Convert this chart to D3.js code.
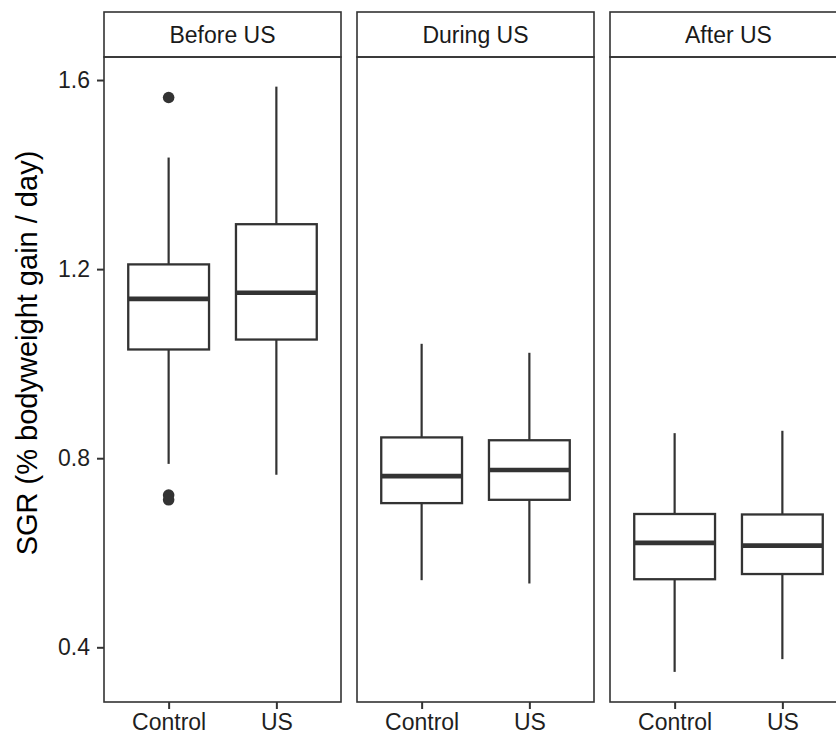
<!DOCTYPE html>
<html>
<head>
<meta charset="utf-8">
<script src="https://cdn.jsdelivr.net/npm/d3@7"></script>
<style>
  body { margin: 0; background: #fff; }
  text { font-family: "Liberation Sans", Arial, sans-serif; }
</style>
</head>
<body>
<svg></svg>
<script>
// -------------------------------------------------------------
const width  = 836;
const height = 735;

// data
const facets  = ["Before US", "During US", "After US"];
const groups  = ["Control", "US"];
const yTicks  = [0.4, 0.8, 1.2, 1.6];

// one entry per facet, [Control, US]
const whiskerLow  = [[0.788, 0.765], [0.542, 0.535], [0.348, 0.375]];
const q1          = [[1.030, 1.051], [0.705, 0.712], [0.544, 0.555]];
const median      = [[1.137, 1.150], [0.762, 0.775], [0.621, 0.615]];
const q3          = [[1.210, 1.295], [0.844, 0.838], [0.682, 0.681]];
const whiskerHigh = [[1.436, 1.586], [1.042, 1.023], [0.853, 0.858]];
const outliers    = [[[1.563, 0.722, 0.712], []], [[], []], [[], []]];

const panelTop    = 57;
const panelBottom = 702;
const stripTop    = 12;
const panelLeft   = [104, 357, 610];
const panelWidth  = 237;
const ink         = "#333333";
const smallFont   = "23px";

const svg = d3.select("svg").attr("width", width).attr("height", height);

const y = d3.scaleLinear()
  .domain([0.2843, 1.6487])
  .range([panelBottom, panelTop]);

// -------------------------------------------------------------
// y axis + title
const yAxis = svg.append("g")
  .attr("transform", `translate(${panelLeft[0]},0)`)
  .call(d3.axisLeft(y).tickValues(yTicks).tickFormat(d3.format(".1f")).tickSize(7).tickPadding(7));
yAxis.select(".domain").remove();
yAxis.selectAll(".tick line").attr("stroke", ink).attr("stroke-width", 2);
yAxis.selectAll(".tick text")
  .attr("fill", "#1f1f1f")
  .style("font-size", smallFont);

svg.append("text")
  .attr("transform", `translate(37,353) rotate(-90)`)
  .attr("text-anchor", "middle")
  .attr("fill", "#000")
  .style("font-size", "29px")
  .text("SGR (% bodyweight gain / day)");

// -------------------------------------------------------------
facets.forEach((facet, f) => {
  const left = panelLeft[f];
  const x = d3.scalePoint()
    .domain(groups)
    .range([left, left + panelWidth])
    .padding(0.6);
  const boxW = x.step() * 0.75;

  const g = svg.append("g");

  // strip
  g.append("rect")
    .attr("x", left).attr("y", stripTop)
    .attr("width", panelWidth).attr("height", panelTop - stripTop)
    .attr("fill", "#fff").attr("stroke", ink).attr("stroke-width", 1.6);
  g.append("text")
    .attr("x", left + panelWidth / 2)
    .attr("y", (stripTop + panelTop) / 2)
    .attr("dy", "0.36em")
    .attr("text-anchor", "middle")
    .attr("fill", "#1a1a1a")
    .style("font-size", smallFont)
    .text(facet);

  // x axis
  const xAxis = g.append("g")
    .attr("transform", `translate(0,${panelBottom})`)
    .call(d3.axisBottom(x).tickSize(7).tickPadding(5));
  xAxis.select(".domain").remove();
  xAxis.selectAll(".tick line").attr("stroke", ink).attr("stroke-width", 2);
  xAxis.selectAll(".tick text")
    .attr("fill", "#1f1f1f")
    .style("font-size", smallFont);

  // boxes
  const boxes = g.selectAll(".box")
    .data(groups.map((grp, i) => ({
      grp,
      lo: whiskerLow[f][i], q1: q1[f][i], med: median[f][i],
      q3: q3[f][i], hi: whiskerHigh[f][i], out: outliers[f][i]
    })))
    .enter().append("g").attr("class", "box");

  boxes.append("line")
    .attr("x1", d => x(d.grp)).attr("x2", d => x(d.grp))
    .attr("y1", d => y(d.q3)).attr("y2", d => y(d.hi))
    .attr("stroke", ink).attr("stroke-width", 2.2);
  boxes.append("line")
    .attr("x1", d => x(d.grp)).attr("x2", d => x(d.grp))
    .attr("y1", d => y(d.q1)).attr("y2", d => y(d.lo))
    .attr("stroke", ink).attr("stroke-width", 2.2);
  boxes.append("rect")
    .attr("x", d => x(d.grp) - boxW / 2)
    .attr("y", d => y(d.q3))
    .attr("width", boxW)
    .attr("height", d => y(d.q1) - y(d.q3))
    .attr("fill", "#fff").attr("stroke", ink).attr("stroke-width", 2.3);
  boxes.append("line")
    .attr("x1", d => x(d.grp) - boxW / 2).attr("x2", d => x(d.grp) + boxW / 2)
    .attr("y1", d => y(d.med)).attr("y2", d => y(d.med))
    .attr("stroke", ink).attr("stroke-width", 4.6);
  boxes.selectAll("circle")
    .data(d => d.out.map(v => ({ grp: d.grp, v })))
    .enter().append("circle")
    .attr("cx", d => x(d.grp))
    .attr("cy", d => y(d.v))
    .attr("r", 5.8)
    .attr("fill", ink);

  // panel border on top
  g.append("rect")
    .attr("x", left).attr("y", panelTop)
    .attr("width", panelWidth).attr("height", panelBottom - panelTop)
    .attr("fill", "none").attr("stroke", ink).attr("stroke-width", 1.6);
});
</script>
</body>
</html>
